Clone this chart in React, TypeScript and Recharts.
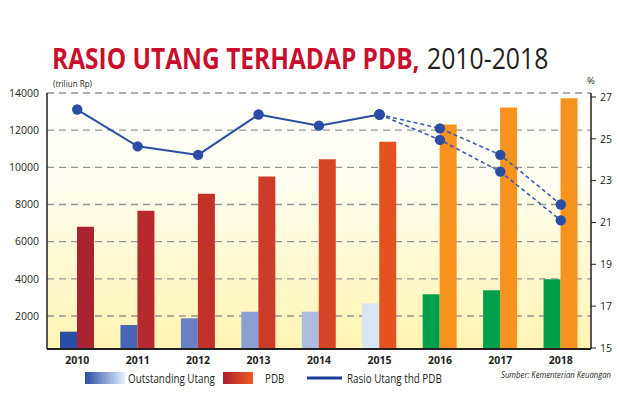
import React from 'react';
import {
  ComposedChart,
  Bar,
  Line,
  Cell,
  XAxis,
  YAxis,
  CartesianGrid,
} from 'recharts';

const years = ['2010', '2011', '2012', '2013', '2014', '2015', '2016', '2017', '2018'];
// triliun Rp
const outstandingUtang = [1156, 1516, 1876, 2231, 2231, 2682, 3166, 3381, 3973];
const pdb = [6800, 7660, 8575, 9510, 10440, 11370, 12300, 13220, 13720];
// % of PDB, realised 2010-2015
const rasio = [26.4, 24.64, 24.23, 26.16, 25.63, 26.16, null, null, null];
// two projection paths starting from 2015
const proyeksiAtas = [null, null, null, null, null, 26.16, 25.5, 24.23, 21.86];
const proyeksiBawah = [null, null, null, null, null, 26.16, 24.95, 23.43, 21.1];

const leftTicks = [2000, 4000, 6000, 8000, 10000, 12000, 14000];
const rightTicks = [15, 17, 19, 21, 23, 25, 27];

const utangColors = ['#2a4ea5', '#4a66b6', '#6b80c3', '#8c9fd3', '#adbde2', '#d6e6f6', '#00a04b', '#00a04b', '#00a04b'];
const pdbColors = ['#ab2330', '#b7292d', '#c3312b', '#cd3b29', '#d84525', '#e45220', '#f7921e', '#f7921e', '#f7921e'];

const data = years.map((year, i) => ({
  year,
  utang: outstandingUtang[i],
  pdb: pdb[i],
  rasio: rasio[i],
  atas: proyeksiAtas[i],
  bawah: proyeksiBawah[i],
}));

const FONT = '"Open Sans", "Noto Sans", sans-serif';
const INK = '#231f20';
const LINE_BLUE = '#2a4ea3';

const dot = { r: 5.2, fill: LINE_BLUE, stroke: 'none' };

// text squeezed horizontally to get the narrow look of the original typeface
function NarrowText({ x, y, sx, children, ...rest }: any) {
  return (
    <g transform={`translate(${x} ${y}) scale(${sx} 1)`}>
      <text x={0} y={0} {...rest}>
        {children}
      </text>
    </g>
  );
}

export default function App() {
  return (
    <div style={{ position: 'fixed', left: 0, top: 0, width: 620, height: 413, background: '#fff' }}>
      <ComposedChart
        width={620}
        height={413}
        data={data}
        margin={{ top: 93, right: 0, bottom: 40, left: 0 }}
        barGap={0}
      >
        <defs>
          <linearGradient id="plotBg" x1="0" y1="0" x2="0" y2="1">
            <stop offset="0%" stopColor="#ffffff" />
            <stop offset="35%" stopColor="#fffdef" />
            <stop offset="100%" stopColor="#fff4b2" />
          </linearGradient>
        </defs>
        <CartesianGrid
          yAxisId="left"
          vertical={false}
          stroke="#959595"
          strokeWidth={1.3}
          strokeDasharray="7 5"
          fill="url(#plotBg)"
        />
        <XAxis
          dataKey="year"
          height={24}
          axisLine={{ stroke: INK, strokeWidth: 2 }}
          tickLine={false}
          tick={{ fontSize: 10.5, fontWeight: 700, fill: INK, fontFamily: FONT }}
        />
        <YAxis
          yAxisId="left"
          width={47}
          domain={[224, 14000]}
          ticks={leftTicks}
          allowDataOverflow
          axisLine={{ stroke: INK, strokeWidth: 1.5 }}
          tickLine={false}
          tick={{ fontSize: 10.5, fill: INK, fontFamily: FONT }}
        />
        <YAxis
          yAxisId="right"
          orientation="right"
          width={29}
          domain={[14.95, 27.19]}
          ticks={rightTicks}
          allowDataOverflow
          axisLine={{ stroke: INK, strokeWidth: 1.5 }}
          tickLine={{ stroke: INK, strokeWidth: 1 }}
          tickSize={5}
          tickMargin={4}
          tick={{ fontSize: 10.5, fill: INK, fontFamily: FONT }}
        />
        <Bar yAxisId="left" dataKey="utang" barSize={17} isAnimationActive={false}>
          {data.map((_, i) => (
            <Cell key={i} fill={utangColors[i]} />
          ))}
        </Bar>
        <Bar yAxisId="left" dataKey="pdb" barSize={17} isAnimationActive={false}>
          {data.map((_, i) => (
            <Cell key={i} fill={pdbColors[i]} />
          ))}
        </Bar>
        <Line
          yAxisId="right"
          dataKey="atas"
          stroke="#3a5cb0"
          strokeWidth={1.6}
          strokeDasharray="4 3"
          dot={dot}
          activeDot={false}
          isAnimationActive={false}
        />
        <Line
          yAxisId="right"
          dataKey="bawah"
          stroke="#3a5cb0"
          strokeWidth={1.6}
          strokeDasharray="4 3"
          dot={dot}
          activeDot={false}
          isAnimationActive={false}
        />
        <Line
          yAxisId="right"
          dataKey="rasio"
          stroke={LINE_BLUE}
          strokeWidth={2}
          dot={dot}
          activeDot={false}
          isAnimationActive={false}
        />
      </ComposedChart>

      <svg
        width={620}
        height={413}
        style={{ position: 'absolute', left: 0, top: 0, pointerEvents: 'none' }}
        fontFamily={FONT}
      >
        <defs>
          <linearGradient id="utangKey" x1="0" y1="0" x2="1" y2="0">
            <stop offset="0%" stopColor="#2a4ea5" />
            <stop offset="100%" stopColor="#e2effb" />
          </linearGradient>
          <linearGradient id="pdbKey" x1="0" y1="0" x2="1" y2="0">
            <stop offset="0%" stopColor="#ad1f2f" />
            <stop offset="100%" stopColor="#ee5a1f" />
          </linearGradient>
        </defs>

        <NarrowText x={52} y={68.5} sx={0.86} fontSize={28.5} fontWeight={700} fill="#c8102e">
          RASIO UTANG TERHADAP PDB,
        </NarrowText>
        <NarrowText x={427} y={68.5} sx={0.87} fontSize={28.5} fill={INK}>
          2010-2018
        </NarrowText>

        <NarrowText x={53} y={86.5} sx={0.92} fontSize={8.8} fill={INK}>
          (triliun Rp)
        </NarrowText>
        <text x={587} y={84} fontSize={9.5} fill={INK}>
          %
        </text>

        <rect x={85} y={372} width={40} height={12} fill="url(#utangKey)" />
        <NarrowText x={128} y={383} sx={0.82} fontSize={12} fill={INK}>
          Outstanding Utang
        </NarrowText>
        <rect x={223} y={372} width={30} height={12} fill="url(#pdbKey)" />
        <NarrowText x={265} y={383} sx={0.82} fontSize={12} fill={INK}>
          PDB
        </NarrowText>
        <line x1={307} x2={342} y1={378} y2={378} stroke="#1d3f9a" strokeWidth={3} />
        <NarrowText x={347} y={383} sx={0.82} fontSize={12} fill={INK}>
          Rasio Utang thd PDB
        </NarrowText>
        <NarrowText x={501} y={378} sx={0.86} fontSize={9} fontStyle="italic" fill={INK}>
          Sumber: Kementerian Keuangan
        </NarrowText>
      </svg>
    </div>
  );
}
